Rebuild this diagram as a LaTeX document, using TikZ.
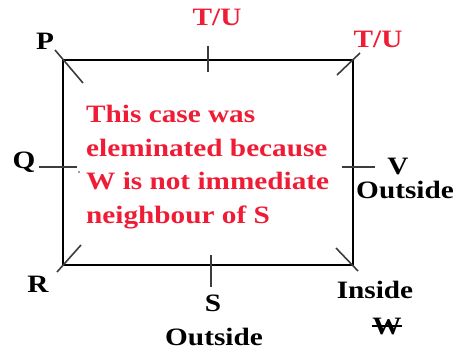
\documentclass[tikz,border=0pt]{standalone}
\usepackage{fontspec}
\usepackage{tikz}
\usetikzlibrary{positioning, calc}
\newfontfamily\diagfont[FakeStretch=1.17]{Liberation Serif}
\definecolor{notered}{RGB}{238,28,52}
\definecolor{tickgray}{RGB}{60,60,60}

\begin{document}
\begin{tikzpicture}[x=1pt, y=-1pt,
    lbl/.style={inner sep=0pt, font=\diagfont\bfseries\fontsize{25}{29}\selectfont},
    redlbl/.style={lbl, text=notered},
    tick/.style={draw=tickgray, line width=1.6pt},
    frame/.style={draw=black, line width=1.4pt}]
    \useasboundingbox (0,0) rectangle (460,354);
    % corners of the table
    \coordinate (p) at (63,60);
    \coordinate (tu) at (353,60);
    \coordinate (ins) at (353,265);
    \coordinate (r) at (63,265);
    \draw[frame] (p) -- (tu) -- (ins) -- (r) -- cycle;
    % seat marks
    \coordinate (pa) at (55,50);   \coordinate (pb) at (83,83);
    \coordinate (ta) at (360,53);  \coordinate (tb) at (337,75);
    \coordinate (ra) at (57,272);  \coordinate (rb) at (81,245);
    \coordinate (ia) at (336,248); \coordinate (ib) at (358,271);
    \coordinate (topa) at (208,46); \coordinate (topb) at (208,72);
    \coordinate (bota) at (211,255); \coordinate (botb) at (211,287);
    \coordinate (qa) at (39,167);  \coordinate (qb) at (77,167);
    \coordinate (va) at (342,167); \coordinate (vb) at (375,167);
    \draw[tick] (pa) -- (pb);
    \draw[tick] (ta) -- (tb);
    \draw[tick] (ra) -- (rb);
    \draw[tick] (ia) -- (ib);
    \draw[tick] (topa) -- (topb);
    \draw[tick] (bota) -- (botb);
    \draw[tick] (qa) -- (qb);
    \draw[tick] (va) -- (vb);
    \fill[tickgray] (79,172) circle (0.8pt);
    % names
    \node[lbl] (lp) at (45,41) {P};
    \node[lbl] (lq) at (24,162) {Q};
    \node[lbl] (lr) at (38,284) {R};
    \node[lbl] (ls) at (213,303) {S};
    \node[lbl] (lsout) at (214,337) {Outside};
    \node[lbl] (lv) at (398,166) {V};
    \node[lbl] (lvout) at (405,190) {Outside};
    \node[lbl] (lins) at (375,290) {Inside};
    \node[lbl] (lw) at (387,326) {W};
    \draw[line width=1.3pt] (lw.west) -- (lw.east);
    \node[redlbl] (ltop) at (217,17) {T/U};
    \node[redlbl] (lright) at (378,39) {T/U};
    \node[redlbl, anchor=north west, align=left,
        font=\diagfont\bfseries\fontsize{25}{33.5}\selectfont] (note) at (86,105)
        {This case was\\eleminated because\\W is not immediate\\neighbour of S};
\end{tikzpicture}
\end{document}
